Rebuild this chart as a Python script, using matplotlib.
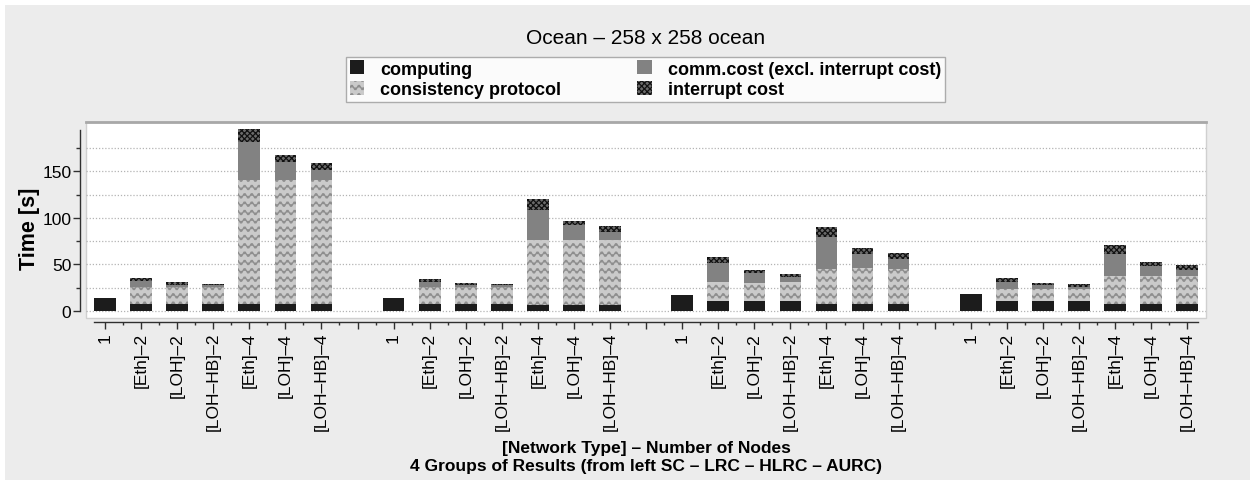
import warnings
import numpy as np
import matplotlib
matplotlib.use("Agg")
import matplotlib.pyplot as plt
from matplotlib import hatch as mhatch
from matplotlib.path import Path
from matplotlib.patches import Patch, Rectangle
from matplotlib.lines import Line2D

warnings.filterwarnings("ignore")

# ---- data -------------------------------------------------------------
configs = ["1", "[Eth]–2", "[LOH]–2", "[LOH–HB]–2", "[Eth]–4", "[LOH]–4", "[LOH–HB]–4"]
protocols = ["SC", "LRC", "HLRC", "AURC"]

computing_sc = [14.5, 8.0, 8.0, 8.0, 7.0, 7.0, 7.0]
consistency_sc = [0, 18.0, 18.0, 18.0, 134.0, 134.0, 134.0]
comm_sc = [0, 6.1, 2.2, 2.0, 40.4, 18.6, 10.0]
interrupt_sc = [0, 3.2, 2.8, 1.2, 14.3, 8.2, 8.2]

computing_lrc = [14.5, 7.5, 7.5, 7.5, 6.8, 6.8, 6.8]
consistency_lrc = [0, 18.6, 18.6, 18.6, 69.4, 69.4, 69.4]
comm_lrc = [0, 5.4, 1.8, 1.8, 32.6, 16.1, 9.0]
interrupt_lrc = [0, 2.9, 2.2, 1.1, 11.5, 4.3, 5.7]

computing_hlrc = [17.5, 11.0, 11.0, 11.0, 7.5, 7.5, 7.5]
consistency_hlrc = [0, 19.7, 19.0, 19.7, 37.6, 38.7, 37.6]
comm_hlrc = [0, 20.7, 10.7, 5.3, 34.0, 15.0, 10.7]
interrupt_hlrc = [0, 6.5, 3.2, 3.6, 10.7, 6.4, 6.1]

computing_aurc = [18.0, 11.0, 11.0, 11.0, 7.5, 7.5, 7.5]
consistency_aurc = [0, 12.5, 12.5, 12.5, 30.4, 30.4, 30.4]
comm_aurc = [0, 8.2, 4.7, 2.5, 23.6, 10.1, 6.5]
interrupt_aurc = [0, 3.6, 1.8, 2.9, 9.4, 4.3, 5.3]

computing = [computing_sc, computing_lrc, computing_hlrc, computing_aurc]
consistency = [consistency_sc, consistency_lrc, consistency_hlrc, consistency_aurc]
comm = [comm_sc, comm_lrc, comm_hlrc, comm_aurc]
interrupt = [interrupt_sc, interrupt_lrc, interrupt_hlrc, interrupt_aurc]

series_names = ["computing", "consistency protocol",
                "comm.cost (excl. interrupt cost)", "interrupt cost"]


# ---- wavy hatch for the consistency-protocol segments ------------------
class WaveHatch(mhatch.HatchPatternBase):
    periods = 14
    steps = 6

    def __init__(self, hatch, density):
        self.num_rows = int(hatch.count("w") * density)
        self.pts = self.periods * self.steps + 1
        self.num_vertices = self.num_rows * self.pts

    def set_vertices_and_codes(self, vertices, codes):
        if self.num_rows == 0:
            return
        x = np.linspace(0.0, 1.0, self.pts)
        amp = 0.28 / self.num_rows
        for r in range(self.num_rows):
            y0 = (r + 0.5) / self.num_rows
            sl = slice(r * self.pts, (r + 1) * self.pts)
            vertices[sl, 0] = x
            vertices[sl, 1] = y0 + amp * np.sin(2 * np.pi * self.periods * x)
            codes[sl] = Path.LINETO
            codes[r * self.pts] = Path.MOVETO


mhatch._hatch_types.append(WaveHatch)

plt.rcParams["font.family"] = ["Liberation Sans", "DejaVu Sans"]
plt.rcParams["hatch.linewidth"] = 0.9

styles = [
    dict(color="#1c1c1c", hatch=None, edge="#1c1c1c"),
    dict(color="#cacaca", hatch="ww", edge="#8e8e8e"),
    dict(color="#828282", hatch=None, edge="#828282"),
    dict(color="#6a6a6a", hatch="xxxxxx", edge="#111111"),
]

# ---- figure -----------------------------------------------------------
fig = plt.figure(figsize=(12.5, 4.81), dpi=100)
fig.patch.set_facecolor("white")
fig.patches.append(Rectangle((5 / 1250, 0.0), 1245 / 1250, 475 / 481,
                             transform=fig.transFigure, facecolor="#ececec",
                             edgecolor="none", zorder=-10))

ax = fig.add_axes([86 / 1250, 1 - 319 / 481, 1120 / 1250, 196 / 481])
ax.set_facecolor("white")

slot = 8
width = 0.6

for g in range(len(protocols)):
    x = np.arange(len(configs)) + g * slot
    bottom = np.zeros(len(configs))
    for values, st in zip([computing[g], consistency[g], comm[g], interrupt[g]], styles):
        v = np.asarray(values, dtype=float)
        ax.bar(x, v, width, bottom=bottom, color=st["color"], edgecolor=st["edge"],
               hatch=st["hatch"], linewidth=0, zorder=3)
        bottom += v

# axis limits, ticks
ax.set_xlim(-0.527, 30.52)
ax.set_ylim(-7.5, 203)

ax.tick_params(axis="y", which="major", length=5, width=1, labelsize=12.5, pad=1.5,
               color="#303030")
ax.tick_params(axis="y", which="minor", length=3, width=1, color="#303030")
ax.tick_params(axis="x", which="major", length=5, width=1, pad=2, color="#303030",
               labelsize=12.5, labelrotation=90)
ax.tick_params(axis="x", which="minor", length=2.5, width=1, color="#303030")

all_ticks = np.arange(len(protocols) * slot - 1)
tick_labels = []
for t in all_ticks:
    i = t % slot
    tick_labels.append(configs[i] if i < len(configs) else "")
ax.set_xticks(all_ticks)
ax.set_xticklabels(tick_labels)
ax.set_xticks(all_ticks[:-1] + 0.5, minor=True)
plt.setp(ax.get_xticklabels(), rotation=90, va="top", ha="center")

ax.set_yticks([0, 50, 100, 150])
ax.set_yticks([25, 75, 125, 175], minor=True)

ax.grid(axis="y", which="both", linestyle=(0, (1, 1.5)), color="#b4b4b4", linewidth=0.9,
        zorder=0)

for side in ["top", "right"]:
    ax.spines[side].set_visible(False)
ax.spines["left"].set_position(("outward", 4))
ax.spines["left"].set_bounds(0, 194)
ax.spines["bottom"].set_position(("outward", 3))
ax.spines["bottom"].set_bounds(-0.3, 30.3)
for side in ["left", "bottom"]:
    ax.spines[side].set_color("#303030")
    ax.spines[side].set_linewidth(1)

# frame of the plotting area
ax.add_patch(Rectangle((0, 0), 1, 1, transform=ax.transAxes, fill=False,
                       edgecolor="#d0d0d0", linewidth=1, zorder=1, clip_on=False))
ax.add_line(Line2D([0, 1], [1, 1], transform=ax.transAxes, color="#a8a8a8",
                   linewidth=2, zorder=4, clip_on=False))

ax.set_ylabel("Time [s]", fontsize=15.5, fontweight="bold")
ax.yaxis.set_label_coords(-0.0415, 0.46)
ax.set_xlabel("[Network Type] – Number of Nodes\n"
              "4 Groups of Results (from left SC – LRC – HLRC – AURC)",
              fontsize=12.5, fontweight="bold", linespacing=1.3)
ax.xaxis.set_label_coords(0.5, -0.62)

ax.set_title("Ocean – 258 x 258 ocean", fontsize=15, y=(319 - 39) / 196, va="center", pad=0)

handles = [Patch(facecolor=st["color"], edgecolor=st["edge"], hatch=st["hatch"], linewidth=0)
           for st in styles]
leg = fig.legend(handles, series_names, ncol=2, mode="expand",
                 loc="lower left",
                 bbox_to_anchor=(346 / 1250, 1 - 103 / 481, 599 / 1250, 47 / 481),
                 prop=dict(size=13, weight="bold"), frameon=True, fancybox=False,
                 handlelength=0.8, handleheight=0.8, handletextpad=0.9,
                 borderpad=0.2, labelspacing=0.2, borderaxespad=0)
leg.get_frame().set_edgecolor("#9a9a9a")
leg.get_frame().set_linewidth(1)

fig.savefig("out.png", dpi=100, facecolor=fig.get_facecolor())
